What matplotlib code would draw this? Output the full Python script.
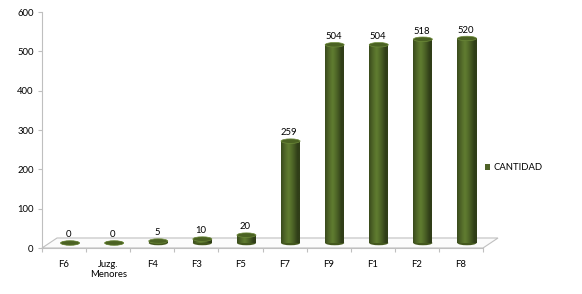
import matplotlib
matplotlib.use("Agg")
from matplotlib import pyplot as plt
from matplotlib.patches import Rectangle, Ellipse, Polygon, Patch
import numpy

plt.rcParams['font.family'] = ['Lato', 'DejaVu Sans']

categories = ["F6", "Juzg.\nMenores", "F4", "F3", "F5", "F7", "F9", "F1", "F2", "F8"]
values = [0, 0, 5, 10, 20, 259, 504, 504, 518, 520]
y_ticks = [0, 100, 200, 300, 400, 500, 600]
series_name = "CANTIDAD"

W, H = 582, 294
FS = 6.8
fig = plt.figure(figsize=(W/100, H/100), dpi=100)
ax = fig.add_axes([42/W, 46/H, 441/W, 236/H])
ax.set_xlim(-0.5, len(categories) - 0.5)
ax.set_ylim(0, 600)

# pixel -> data conversion for the fake 3d depth
px_x = (len(categories)) / 441.0
px_y = 600 / 236.0

# floor of the 3d box
depth_x, depth_y = 15*px_x, 10*px_y
floor = Polygon([(-0.5, 0), (9.5, 0), (9.5+depth_x, depth_y), (-0.5+depth_x, depth_y)],
                closed=True, facecolor='#fbfbfb', edgecolor='#c0c0c0', lw=0.8,
                clip_on=False, zorder=1)
ax.add_patch(floor)

# cylinders
off_x, off_y = 6*px_x, 5*px_y
bw = 19*px_x
eh = 4.5*px_y
grad = numpy.linspace(0, 1, 64)
shade = 1 - 0.55*numpy.abs(grad - 0.4)**1.2*2.2
shade = numpy.clip(shade, 0.5, 1.0)
base = numpy.array([0x60, 0x7c, 0x30]) / 255.0
img = (shade[None, :, None] * base[None, None, :]).repeat(2, axis=0)

for i, v in enumerate(values):
    cx = i + off_x
    y0 = off_y
    y1 = v + off_y
    body = Rectangle((cx - bw/2, y0), bw, y1 - y0, facecolor='none', edgecolor='none',
                     zorder=3, clip_on=False)
    ax.add_patch(body)
    if y1 - y0 > 0:
        im = ax.imshow(img, extent=(cx - bw/2, cx + bw/2, y0, y1), aspect='auto',
                       zorder=3, clip_on=False, interpolation='bilinear')
        im.set_clip_path(body)
    bottom = Ellipse((cx, y0), bw, eh, facecolor='#44581e', edgecolor='none', zorder=2.9,
                     clip_on=False)
    ax.add_patch(bottom)
    top = Ellipse((cx, y1), bw, eh, facecolor='#4b6223', edgecolor='#6d8a3a', lw=0.5,
                  zorder=4, clip_on=False)
    ax.add_patch(top)
    ax.text(cx - 0.03, y1 + eh/2 + 1.5*px_y, str(v), ha='center', va='bottom',
            fontsize=FS, color='#000000', zorder=5)

# axes styling
for s in ['top', 'right']:
    ax.spines[s].set_visible(False)
ax.spines['left'].set_color('#bfbfbf')
ax.spines['bottom'].set_color('#bfbfbf')
ax.spines['left'].set_linewidth(0.8)
ax.spines['bottom'].set_linewidth(0.8)
ax.set_yticks(y_ticks)
ax.set_yticklabels([str(t) for t in y_ticks], fontsize=FS)
ax.tick_params(axis='y', length=3, width=0.8, color='#bfbfbf', pad=3)
ax.set_xticks(numpy.arange(-0.5, len(categories), 1.0))
ax.set_xticklabels([])
ax.tick_params(axis='x', which='major', length=3, width=0.8, color='#bfbfbf')
ax.set_xticks(numpy.arange(len(categories)), minor=True)
ax.set_xticklabels(categories, minor=True, fontsize=FS, linespacing=1.2)
ax.tick_params(axis='x', which='minor', length=0, pad=8.5)
ax.patch.set_visible(False)

fig.legend(handles=[Patch(facecolor='#4f6228', edgecolor='none', label=series_name)],
           loc='center left', bbox_to_anchor=(476/W, 1 - 168/H), frameon=False,
           fontsize=FS, handlelength=0.55, handleheight=0.55, handletextpad=0.35)

fig.savefig('out.png', dpi=100)
